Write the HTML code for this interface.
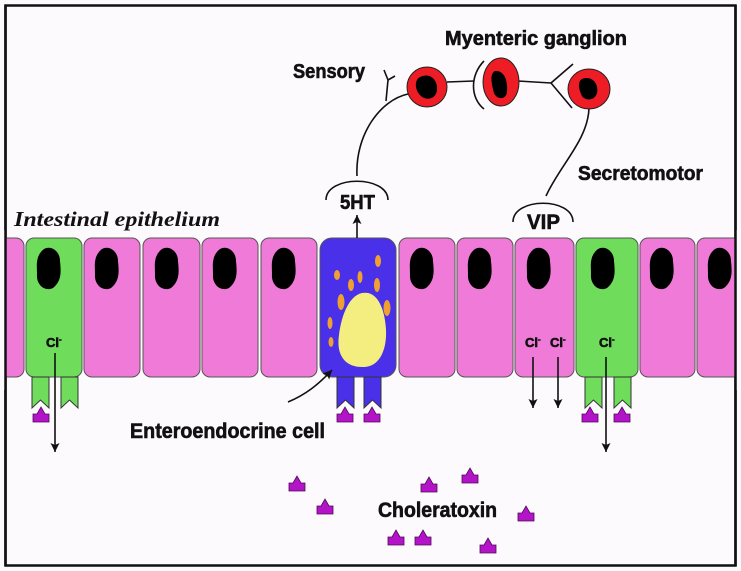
<!DOCTYPE html>
<html><head><meta charset="utf-8"><style>
html,body{margin:0;padding:0;background:#fdfafd;}
svg{display:block}
.b{font-family:"Liberation Sans",sans-serif;font-weight:bold;fill:#111;stroke:#111;stroke-width:0.6;}
</style></head><body>
<svg width="741" height="571" viewBox="0 0 741 571" xmlns="http://www.w3.org/2000/svg">
<defs>
<polygon id="tx" points="0,15 0,7 4,7 8,0 12,7 16,7 16,15" fill="#b414c8" stroke="#4a0a55" stroke-width="0.8"/>
<path id="leg" d="M0,0 H17 V31 L8.5,23 L0,31 Z" stroke="#333" stroke-width="1"/>
<path id="nuc" d="M7,1 C14,-3 23,3 23,13 C24,23 25,33 16,40 C8,44 -1,37 0,26 C0,18 -2,8 7,1 Z" fill="#000"/>
<marker id="ah" markerWidth="10" markerHeight="10" refX="9" refY="4.5" orient="auto" markerUnits="userSpaceOnUse"><path d="M0,0 L9,4.5 L0,9 L2,4.5 Z" fill="#111"/></marker>
</defs>
<rect x="5.5" y="5.5" width="730" height="560" fill="#fdfafd" stroke="#111" stroke-width="2.5"/>

<g stroke="#555" stroke-width="1">
<rect x="-10" y="238" width="34" height="139" rx="8" fill="#f07ad8"/>
<rect x="26" y="238" width="56" height="139" rx="8" fill="#6fdc5c"/>
<rect x="84" y="238" width="56" height="139" rx="8" fill="#f07ad8"/>
<rect x="143" y="238" width="57" height="139" rx="8" fill="#f07ad8"/>
<rect x="202" y="238" width="56" height="139" rx="8" fill="#f07ad8"/>
<rect x="261" y="238" width="56" height="139" rx="8" fill="#f07ad8"/>
<rect x="320" y="238" width="76" height="139" rx="12" fill="#4a30e8"/>
<rect x="399" y="238" width="56" height="139" rx="8" fill="#f07ad8"/>
<rect x="457" y="238" width="56" height="139" rx="8" fill="#f07ad8"/>
<rect x="515" y="238" width="59" height="139" rx="8" fill="#f07ad8"/>
<rect x="576" y="238" width="62" height="139" rx="8" fill="#6fdc5c"/>
<rect x="640" y="238" width="55" height="139" rx="8" fill="#f07ad8"/>
<rect x="697" y="238" width="50" height="139" rx="8" fill="#f07ad8"/>
</g>
<use href="#nuc" x="37" y="248"/>
<use href="#nuc" x="95" y="248"/>
<use href="#nuc" x="155" y="248"/>
<use href="#nuc" x="213" y="248"/>
<use href="#nuc" x="272" y="248"/>
<use href="#nuc" x="410" y="248"/>
<use href="#nuc" x="468" y="248"/>
<use href="#nuc" x="527" y="248"/>
<use href="#nuc" x="591" y="248"/>
<use href="#nuc" x="650" y="248"/>
<use href="#nuc" x="708" y="248"/>
<rect x="736" y="230" width="10" height="160" fill="#fdfafd"/>
<rect x="0" y="230" width="5" height="160" fill="#fdfafd"/>
<line x1="735.5" y1="5" x2="735.5" y2="566" stroke="#111" stroke-width="2.5"/>
<line x1="5.5" y1="5" x2="5.5" y2="566" stroke="#111" stroke-width="2.5"/>

<g fill="#f0a030">
<ellipse cx="378" cy="261" rx="3" ry="6"/>
<ellipse cx="337" cy="275" rx="3" ry="5"/>
<ellipse cx="351" cy="285" rx="3" ry="6"/>
<ellipse cx="360" cy="277" rx="2.5" ry="6"/>
<ellipse cx="377" cy="285" rx="3" ry="7"/>
<ellipse cx="341" cy="302" rx="3.5" ry="8"/>
<ellipse cx="387" cy="308" rx="3.5" ry="8"/>
<ellipse cx="330" cy="323" rx="2.5" ry="6"/>
<ellipse cx="331" cy="342" rx="2.5" ry="5"/>
</g>
<path d="M362,293 C378,290 385,310 386,330 C387,352 378,368 362,367 C345,367 336,355 339,335 C341,318 348,296 362,293 Z" fill="#f4ee80"/>

<g fill="#6fdc5c"><use href="#leg" x="32" y="377"/><use href="#leg" x="61" y="377"/><use href="#leg" x="585" y="377"/><use href="#leg" x="614" y="377"/></g>
<g fill="#4a30e8"><use href="#leg" x="337" y="377"/><use href="#leg" x="364" y="377"/></g>
<use href="#tx" x="33" y="407"/><use href="#tx" x="337" y="407"/><use href="#tx" x="364" y="407"/>
<use href="#tx" x="582" y="407"/><use href="#tx" x="614" y="407"/>
<use href="#tx" x="289" y="476"/><use href="#tx" x="317" y="499"/><use href="#tx" x="421" y="477"/><use href="#tx" x="462" y="468"/><use href="#tx" x="518" y="506"/><use href="#tx" x="388" y="530"/><use href="#tx" x="415" y="530"/><use href="#tx" x="480" y="538"/>

<g class="b" font-size="13"><text x="46" y="347">Cl<tspan font-size="8" dy="-5">-</tspan></text>
<text x="525" y="347">Cl<tspan font-size="8" dy="-5">-</tspan></text>
<text x="550" y="347">Cl<tspan font-size="8" dy="-5">-</tspan></text>
<text x="599" y="347">Cl<tspan font-size="8" dy="-5">-</tspan></text></g>
<g stroke="#111" stroke-width="1.6" fill="none">
<line x1="55" y1="353" x2="55" y2="452" marker-end="url(#ah)"/>
<line x1="533" y1="357" x2="533" y2="408" marker-end="url(#ah)"/>
<line x1="558" y1="357" x2="558" y2="408" marker-end="url(#ah)"/>
<line x1="606" y1="357" x2="606" y2="452" marker-end="url(#ah)"/>
<line x1="357" y1="238" x2="357" y2="215" marker-end="url(#ah)"/>
<path d="M288,402 C305,395 318,385 332,370" marker-end="url(#ah)"/>
<path d="M357,176 C355,135 380,100 408,94"/>
<path d="M386,101 L388,80 L384,70 M388,80 L395,76"/>
<line x1="447" y1="82" x2="474" y2="81"/>
<path d="M484,61 C470,75 470,98 484,109"/>
<line x1="518" y1="81" x2="551" y2="83"/>
<path d="M573,64 L551,83 L572,108"/>
<path d="M589,108 C588,140 560,165 546,196"/>
<path d="M326,200 C326,175 388,175 388,200"/>
<path d="M513,222 C513,197 573,197 573,222"/>
</g>
<g stroke="#222" stroke-width="1">
<ellipse cx="427" cy="87" rx="20" ry="20" fill="#ee1c24"/>
<ellipse cx="501" cy="82" rx="18" ry="24" fill="#ee1c24"/>
<ellipse cx="589" cy="89" rx="21" ry="20" fill="#ee1c24"/>
</g>
<g fill="#000">
<path d="M420,77 C430,72 438,80 437,90 C436,100 425,101 420,95 C415,90 414,80 420,77Z"/>
<path d="M495,71 C505,70 508,82 507,92 C506,100 497,100 494,93 C492,85 489,74 495,71Z"/>
<path d="M582,79 C592,75 599,84 597,93 C595,101 585,101 582,96 C579,90 577,82 582,79Z"/>
</g>

<g class="b">
<text x="445" y="45" font-size="20" textLength="182" lengthAdjust="spacingAndGlyphs">Myenteric ganglion</text>
<text x="293" y="78" font-size="20" textLength="72" lengthAdjust="spacingAndGlyphs">Sensory</text>
<text x="578" y="180" font-size="20" textLength="125" lengthAdjust="spacingAndGlyphs">Secretomotor</text>
<text x="340" y="209" font-size="20" textLength="35" lengthAdjust="spacingAndGlyphs">5HT</text>
<text x="527" y="229" font-size="21" textLength="33" lengthAdjust="spacingAndGlyphs">VIP</text>
<text x="130" y="438" font-size="21" textLength="195" lengthAdjust="spacingAndGlyphs">Enteroendocrine cell</text>
<text x="378" y="517" font-size="21" textLength="119" lengthAdjust="spacingAndGlyphs">Choleratoxin</text>
</g>
<text x="14" y="226" font-family="Liberation Serif,serif" font-style="italic" font-weight="bold" font-size="21" fill="#111" textLength="206" lengthAdjust="spacingAndGlyphs">Intestinal epithelium</text>
</svg>
</body></html>
